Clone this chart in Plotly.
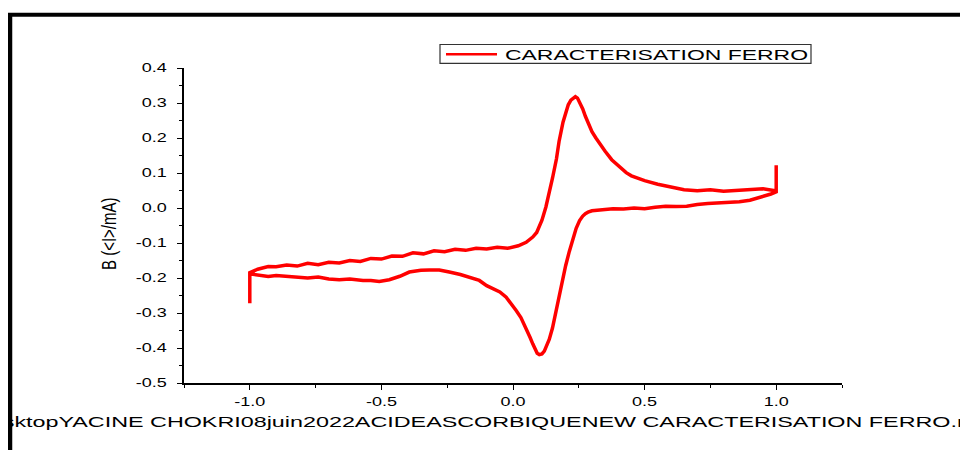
import plotly.graph_objects as go

# ---------------- data ----------------
series_name = "CARACTERISATION FERRO"
y_title = "B (&lt;I&gt;/mA)"
footer_text = "sktopYACINE CHOKRI08juin2022ACIDEASCORBIQUENEW CARACTERISATION FERRO.m"

# initial spike at -1.0 V
E_start = [-1.0, -1.0]
I_start = [-0.272, -0.185]

# forward (anodic) sweep
E_fwd = [-0.97, -0.93, -0.90, -0.86, -0.82, -0.78, -0.74, -0.70, -0.66, -0.62,
         -0.58, -0.54, -0.50, -0.46, -0.42, -0.38, -0.34, -0.30, -0.26, -0.22,
         -0.18, -0.14, -0.10, -0.06, -0.02, 0.02, 0.05, 0.075, 0.09, 0.10,
         0.11, 0.125, 0.14, 0.15, 0.165, 0.175, 0.19, 0.20, 0.21, 0.22,
         0.23, 0.237, 0.245, 0.255, 0.265, 0.275, 0.29, 0.30, 0.315, 0.33,
         0.35, 0.375, 0.40, 0.43, 0.45, 0.50, 0.55, 0.60, 0.65, 0.70,
         0.75, 0.80, 0.85, 0.90, 0.95, 0.99, 1.0]
I_fwd = [-0.175, -0.167, -0.168, -0.163, -0.166, -0.158, -0.162, -0.155, -0.157, -0.150,
         -0.153, -0.144, -0.146, -0.137, -0.138, -0.128, -0.131, -0.122, -0.125, -0.118,
         -0.121, -0.115, -0.117, -0.112, -0.115, -0.108, -0.098, -0.083, -0.070, -0.055,
         -0.035, 0.003, 0.050, 0.085, 0.140, 0.190, 0.245, 0.275, 0.295, 0.308,
         0.316, 0.318, 0.314, 0.300, 0.283, 0.262, 0.232, 0.218, 0.200, 0.183,
         0.162, 0.138, 0.120, 0.101, 0.092, 0.078, 0.068, 0.060, 0.052, 0.049,
         0.052, 0.048, 0.050, 0.052, 0.055, 0.050, 0.050]

# switching spike at +1.0 V
E_switch = [1.0, 1.0]
I_switch = [0.122, 0.046]

# reverse (cathodic) sweep
E_rev = [0.98, 0.96, 0.93, 0.90, 0.86, 0.82, 0.78, 0.74, 0.70, 0.66,
         0.62, 0.58, 0.54, 0.50, 0.46, 0.42, 0.38, 0.34, 0.30, 0.285,
         0.275, 0.265, 0.253, 0.24, 0.227, 0.214, 0.20, 0.189, 0.176, 0.164,
         0.15, 0.138, 0.128, 0.119, 0.11, 0.10, 0.092, 0.085, 0.075, 0.065,
         0.05, 0.03, 0.012, -0.01, -0.026, -0.05, -0.077, -0.10, -0.128, -0.166,
         -0.20, -0.242, -0.28, -0.318, -0.35, -0.394, -0.43, -0.47, -0.508, -0.54,
         -0.57, -0.62, -0.66, -0.70, -0.74, -0.78, -0.824, -0.86, -0.90, -0.93,
         -0.97, -1.0]
I_rev = [0.040, 0.036, 0.028, 0.022, 0.018, 0.017, 0.014, 0.013, 0.010, 0.005,
         0.004, 0.005, 0.002, -0.002, 0.000, -0.003, -0.002, -0.004, -0.008, -0.012,
         -0.016, -0.023, -0.036, -0.058, -0.088, -0.124, -0.165, -0.205, -0.253, -0.298,
         -0.343, -0.375, -0.395, -0.409, -0.417, -0.419, -0.415, -0.405, -0.388, -0.370,
         -0.343, -0.313, -0.293, -0.270, -0.255, -0.240, -0.231, -0.222, -0.207, -0.198,
         -0.190, -0.183, -0.177, -0.177, -0.178, -0.183, -0.195, -0.205, -0.210, -0.207,
         -0.207, -0.203, -0.205, -0.203, -0.197, -0.200, -0.198, -0.195, -0.193, -0.196,
         -0.190, -0.188]

x_ticks = [-1.0, -0.5, 0.0, 0.5, 1.0]
x_tick_text = ["-1.0", "-0.5", "0.0", "0.5", "1.0"]
y_ticks = [-0.5, -0.4, -0.3, -0.2, -0.1, 0.0, 0.1, 0.2, 0.3, 0.4]
y_tick_text = ["-0.5", "-0.4", "-0.3", "-0.2", "-0.1", "0.0", "0.1", "0.2", "0.3", "0.4"]

E = E_start + E_fwd + E_switch + E_rev
I = I_start + I_fwd + I_switch + I_rev

FONT = "Liberation Sans, Arial, sans-serif"

fig = go.Figure()
fig.add_trace(go.Scatter(x=E, y=I, mode="lines", name=series_name,
                         line=dict(color="#ff0000", width=3.5), showlegend=False))

axis_common = dict(showline=True, linecolor="black", linewidth=1.5, mirror=False,
                   ticks="outside", ticklen=5, tickwidth=1.3, tickcolor="black",
                   showgrid=False, zeroline=False,
                   tickfont=dict(family=FONT, size=12, color="black"))

fig.update_xaxes(range=[-1.25, 1.25], tickvals=x_ticks, ticktext=x_tick_text,
                 minor=dict(dtick=0.25, ticklen=3, tickcolor="black", ticks="outside", tickwidth=1.3),
                 ticklabelstandoff=2, **axis_common)
fig.update_yaxes(range=[-0.5, 0.4], tickvals=y_ticks, ticktext=y_tick_text,
                 minor=dict(dtick=0.05, ticklen=3, tickcolor="black", ticks="outside", tickwidth=1.3),
                 ticklabelstandoff=8, **axis_common)

# figure coordinates (page body has an 8px offset); plot area x 176..834, y 60..375
W, H = 968, 450
L, R, T, B = 176, 134, 60, 75
PW, PH = W - L - R, H - T - B
def px(xp):
    return (xp - L) / PW
def py(yp):
    return (H - B - yp) / PH

shapes = [
    # outer frame (left and top edges)
    dict(type="line", xref="paper", yref="paper", x0=px(2.0), x1=px(2.0), y0=py(6.7), y1=py(520),
         line=dict(color="black", width=4.5)),
    dict(type="line", xref="paper", yref="paper", x0=px(0), x1=px(1020), y0=py(6.7), y1=py(6.7),
         line=dict(color="black", width=4)),
    # legend box and sample line
    dict(type="rect", xref="paper", yref="paper", x0=px(432), x1=px(803), y0=py(36.5), y1=py(55.3),
         line=dict(color="#333333", width=1.2), fillcolor="white", layer="above"),
    dict(type="line", xref="paper", yref="paper", x0=px(438), x1=px(489), y0=py(46.3), y1=py(46.3),
         line=dict(color="#ff0000", width=2.5), layer="above"),
]

annotations = [
    dict(text=y_title, xref="paper", yref="paper", x=px(102), y=py(226), textangle=-90,
         showarrow=False, xanchor="center", yanchor="middle",
         font=dict(family=FONT, size=15, color="black")),
    dict(text=footer_text, xref="paper", yref="paper", x=px(481), y=py(413.7),
         showarrow=False, xanchor="center", yanchor="middle",
         font=dict(family=FONT, size=15.55, color="black")),
    dict(text=series_name, xref="paper", yref="paper", x=px(495), y=py(46.3),
         showarrow=False, xanchor="left", yanchor="middle", align="left",
         font=dict(family=FONT, size=15.3, color="black")),
]

fig.update_layout(
    width=W, height=H,
    margin=dict(l=L, r=R, t=T, b=B),
    paper_bgcolor="white", plot_bgcolor="white",
    font=dict(family=FONT, color="black"),
    shapes=shapes, annotations=annotations,
    showlegend=False,
)

# the reference image is stretched horizontally by ~1.5x: widen the glyphs of
# horizontal texts; for the rotated y title, enlarge glyph height keeping its length
post = """
var gd = document.getElementById('{plot_id}');
var k = 1.5;
gd.querySelectorAll('svg text').forEach(function(t){
  var s = t.textContent || '';
  var w = t.getComputedTextLength();
  if (!(w > 0)) return;
  if (s.indexOf('B (') === 0) {
    t.style.fontSize = '21px';
    t.setAttribute('textLength', w.toFixed(2));
    t.setAttribute('lengthAdjust', 'spacingAndGlyphs');
    return;
  }
  t.setAttribute('textLength', (w * k).toFixed(2));
  t.setAttribute('lengthAdjust', 'spacingAndGlyphs');
});
"""

fig.write_html("out.html", post_script=post)
